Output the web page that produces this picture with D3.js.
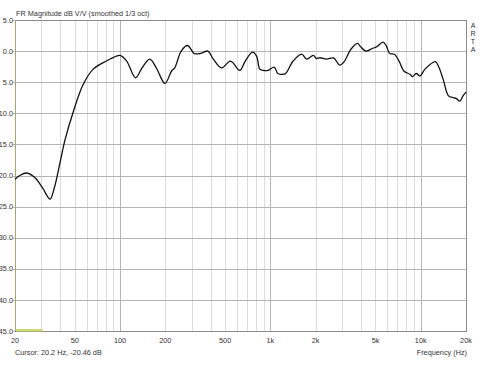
<!DOCTYPE html>
<html>
<head>
<meta charset="utf-8">
<script src="https://cdn.jsdelivr.net/npm/d3@7"></script>
<style>
  body { margin: 0; background: #fff; }
  text { font-family: "Liberation Sans", Arial, sans-serif; fill: #333; }
</style>
</head>
<body>
<div id="chart"></div>
<script>
// Frame size and plot box
const FRAME_WIDTH = 480;
const FRAME_HEIGHT = 367;
const MARGINS = {left: 15, right: 14, top: 20, bottom: 36};
const VIS_WIDTH = FRAME_WIDTH - MARGINS.left - MARGINS.right;
const VIS_HEIGHT = FRAME_HEIGHT - MARGINS.top - MARGINS.bottom;
const FONT = "7.3px";

const FREQS = [20, 21.5, 23.9, 27, 30.5, 34.2, 36.5, 39.8, 43.1, 48.9, 56.7, 66.3, 81, 94.5, 100,
  110.6, 126.8, 140, 157.6, 175, 198.9, 220, 231, 255, 281, 312, 345, 384, 417, 473, 537, 560,
  626, 680, 761, 809, 850, 894, 963, 1062, 1120, 1206, 1262, 1417, 1613, 1742, 1929, 2028,
  2134, 2362, 2630, 2891, 3114, 3431, 3797, 3950, 4318, 4741, 5098, 5630, 5913, 6217, 6669,
  7174, 7715, 8505, 8800, 9350, 9870, 10670, 12500, 13100, 14100, 15300, 16500, 17200, 18200,
  19100, 20000];
const DB = [-20.6, -20.0, -19.6, -20.3, -22.0, -23.8, -22.0, -18.0, -14.2, -9.7, -5.4, -2.9, -1.6, -0.8, -0.7,
  -1.6, -4.3, -2.7, -1.3, -2.8, -5.2, -3.2, -2.7, 0, 0.9, -0.4, -0.35, 0, -1.3, -2.7, -1.6, -1.8,
  -3.1, -1.6, -0.15, -0.8, -2.9, -3.1, -3.1, -2.6, -3.6, -3.75, -3.6, -1.6, -0.5, -1.3, -0.7, -1.2,
  -1.07, -1.3, -1.1, -2.25, -1.6, 0.3, 1.25, 0.8, 0, 0.4, 0.7, 1.45, 0.8, -0.4, -0.5,
  -1.6, -3.2, -3.75, -4.1, -3.6, -4.0, -2.9, -1.7, -2.4, -4.55, -7.2, -7.5, -7.6, -8.05,
  -7.2, -6.6];

// Axis ticks (labels as they appear, the minus sign falls outside the picture)
const Y_TICKS = [5, 0, -5, -10, -15, -20, -25, -30, -35, -40, -45];
const Y_TICK_LABELS = ["5.0", "0.0", "5.0", "10.0", "15.0", "20.0", "25.0", "30.0", "35.0", "40.0", "45.0"];
const X_TICKS = [20, 50, 100, 200, 500, 1000, 2000, 5000, 10000, 20000];
const X_TICK_LABELS = ["20", "50", "100", "200", "500", "1k", "2k", "5k", "10k", "20k"];
const MAJOR_GRID = [100, 1000, 10000];
const MINOR_GRID = [30, 40, 50, 60, 70, 80, 90, 200, 300, 400, 500, 600, 700, 800, 900,
  2000, 3000, 4000, 5000, 6000, 7000, 8000, 9000];

const FRAME = d3.select("#chart")
  .append("svg")
    .attr("width", FRAME_WIDTH)
    .attr("height", FRAME_HEIGHT);

const X_SCALE = d3.scaleLog()
  .domain([20, 20000])
  .range([MARGINS.left, MARGINS.left + VIS_WIDTH]);

const Y_SCALE = d3.scaleLinear()
  .domain([-45, 5])
  .range([MARGINS.top + VIS_HEIGHT, MARGINS.top]);

// minor vertical grid
FRAME.append("g")
  .selectAll("line")
  .data(MINOR_GRID)
  .enter()
  .append("line")
    .attr("x1", d => Math.round(X_SCALE(d)) + 0.5)
    .attr("x2", d => Math.round(X_SCALE(d)) + 0.5)
    .attr("y1", MARGINS.top)
    .attr("y2", MARGINS.top + VIS_HEIGHT)
    .attr("stroke", "#dcdcdc");

// major vertical grid
FRAME.append("g")
  .selectAll("line")
  .data(MAJOR_GRID)
  .enter()
  .append("line")
    .attr("x1", d => Math.round(X_SCALE(d)) + 0.5)
    .attr("x2", d => Math.round(X_SCALE(d)) + 0.5)
    .attr("y1", MARGINS.top)
    .attr("y2", MARGINS.top + VIS_HEIGHT)
    .attr("stroke", "#b4b4b4");

// horizontal grid
FRAME.append("g")
  .selectAll("line")
  .data(Y_TICKS)
  .enter()
  .append("line")
    .attr("x1", MARGINS.left - 2)
    .attr("x2", MARGINS.left + VIS_WIDTH)
    .attr("y1", d => Math.round(Y_SCALE(d)) + 0.5)
    .attr("y2", d => Math.round(Y_SCALE(d)) + 0.5)
    .attr("stroke", "#b4b4b4");

// plot border
FRAME.append("rect")
  .attr("x", MARGINS.left + 0.5)
  .attr("y", MARGINS.top + 0.5)
  .attr("width", VIS_WIDTH)
  .attr("height", VIS_HEIGHT)
  .attr("fill", "none")
  .attr("stroke", "#8c8c8c");

// olive left axis line
FRAME.append("line")
  .attr("x1", MARGINS.left + 0.5)
  .attr("x2", MARGINS.left + 0.5)
  .attr("y1", MARGINS.top)
  .attr("y2", MARGINS.top + VIS_HEIGHT)
  .attr("stroke", "#a8a860");

// cursor marker at the bottom
FRAME.append("rect")
  .attr("x", MARGINS.left + 1)
  .attr("y", MARGINS.top + VIS_HEIGHT - 2)
  .attr("width", X_SCALE(30) - MARGINS.left)
  .attr("height", 2.5)
  .attr("fill", "#cfd86a");

// y labels
FRAME.append("g")
  .selectAll("text")
  .data(Y_TICKS)
  .enter()
  .append("text")
    .attr("x", MARGINS.left - 2)
    .attr("y", d => Y_SCALE(d) + 2.6)
    .attr("text-anchor", "end")
    .style("font-size", FONT)
    .text((d, i) => Y_TICK_LABELS[i]);

// x labels
FRAME.append("g")
  .selectAll("text")
  .data(X_TICKS)
  .enter()
  .append("text")
    .attr("x", d => X_SCALE(d))
    .attr("y", MARGINS.top + VIS_HEIGHT + 12)
    .attr("text-anchor", "middle")
    .style("font-size", FONT)
    .text((d, i) => X_TICK_LABELS[i]);

// the response curve
const line = d3.line()
  .x((d, i) => X_SCALE(FREQS[i]))
  .y(d => Y_SCALE(d))
  .curve(d3.curveCatmullRom.alpha(0.5));

FRAME.append("path")
  .attr("d", line(DB))
  .attr("fill", "none")
  .attr("stroke", "#111")
  .attr("stroke-width", 1.3);

// title
FRAME.append("text")
  .attr("x", MARGINS.left + 1)
  .attr("y", 16)
  .style("font-size", FONT)
  .text("FR Magnitude dB V/V (smoothed 1/3 oct)");

// ARTA stacked on the right
FRAME.append("g")
  .selectAll("text")
  .data(["A", "R", "T", "A"])
  .enter()
  .append("text")
    .attr("x", 473)
    .attr("y", (d, i) => 27.5 + i * 8)
    .attr("text-anchor", "middle")
    .style("font-size", "7px")
    .text(d => d);

// cursor readout
FRAME.append("text")
  .attr("x", MARGINS.left)
  .attr("y", 355)
  .style("font-size", FONT)
  .text("Cursor: 20.2 Hz, -20.46 dB");

FRAME.append("text")
  .attr("x", MARGINS.left + VIS_WIDTH + 1)
  .attr("y", 355)
  .attr("text-anchor", "end")
  .style("font-size", FONT)
  .text("Frequency (Hz)");
</script>
</body>
</html>
